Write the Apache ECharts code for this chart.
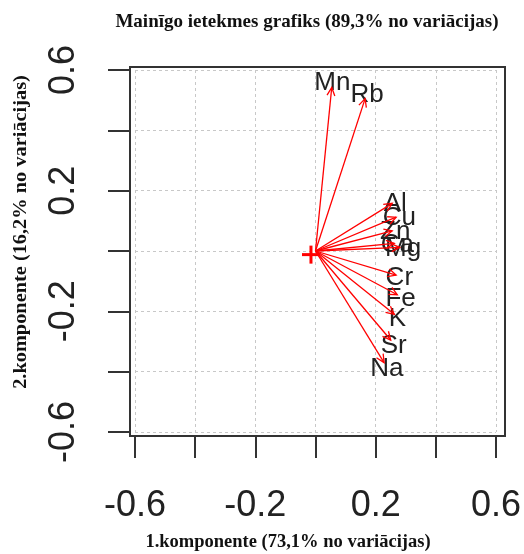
<!DOCTYPE html>
<html>
<head>
<meta charset="utf-8">
<script src="https://cdn.jsdelivr.net/npm/echarts@6/dist/echarts.min.js"></script>
<style>
  html, body { margin: 0; padding: 0; background: #ffffff; }
  #chart { width: 524px; height: 554px; }
</style>
</head>
<body>
<div id="chart"></div>
<script>
// Variable loadings on the first two principal components
const variables = ['Mn', 'Rb', 'Al', 'Cu', 'Zn', 'Ca', 'Mg', 'Cr', 'Fe', 'K', 'Sr', 'Na'];
const pc1 = [0.054, 0.165, 0.255, 0.268, 0.255, 0.262, 0.280, 0.268, 0.272, 0.262, 0.250, 0.228];
const pc2 = [0.542, 0.505, 0.158, 0.112, 0.067, 0.025, 0.012, -0.080, -0.145, -0.210, -0.295, -0.370];

// Marker near the origin
const originMark = [-0.015, -0.012];

// Axis ticks and the labels that are printed
const tickValues = [-0.6, -0.4, -0.2, 0, 0.2, 0.4, 0.6];
const tickLabels = ['-0.6', '-0.2', '0.2', '0.6'];

const titleText = 'Mainīgo ietekmes grafiks (89,3% no variācijas)';
const xName = '1.komponente (73,1% no variācijas)';
const yName = '2.komponente (16,2% no variācijas)';

const labelScale = 1.04;
const loadings = variables.map((v, i) => [pc1[i], pc2[i], v]);

function tickFormatter(v) {
  const s = (Math.round(v * 10) / 10).toFixed(1);
  return tickLabels.indexOf(s) >= 0 ? s : '';
}

const axisCommon = {
  type: 'value',
  min: tickValues[0],
  max: tickValues[tickValues.length - 1],
  interval: 0.2,
  axisLine: { show: true, onZero: false, lineStyle: { color: '#333', width: 2 } },
  axisTick: { show: true, inside: false, length: 22, lineStyle: { color: '#333', width: 2 } },
  splitLine: { show: true, lineStyle: { color: '#c8c8c8', width: 1, type: [3, 3] } },
  axisLabel: {
    fontFamily: 'Liberation Sans, Arial, sans-serif',
    fontSize: 36,
    color: '#222',
    formatter: tickFormatter,
    showMinLabel: true,
    showMaxLabel: true,
    hideOverlap: false
  }
};

const chart = echarts.init(document.getElementById('chart'), null, { renderer: 'canvas' });

chart.setOption({
  animation: false,
  backgroundColor: '#ffffff',
  title: {
    text: titleText,
    left: 302,
    textAlign: 'center',
    top: 8,
    textStyle: { fontFamily: 'Liberation Serif, Times New Roman, serif', fontWeight: 'bold', fontSize: 19, color: '#111' }
  },
  grid: { left: 135, right: 24, top: 70, bottom: 122, containLabel: false },
  xAxis: Object.assign({}, axisCommon, {
    offset: 4,
    axisLabel: Object.assign({}, axisCommon.axisLabel, { margin: 52 })
  }),
  yAxis: Object.assign({}, axisCommon, {
    offset: 5,
    axisLabel: Object.assign({}, axisCommon.axisLabel, { rotate: 90, margin: 48 })
  }),
  graphic: [
    {
      type: 'rect',
      shape: { x: 130, y: 67, width: 375, height: 369 },
      style: { fill: null, stroke: '#333', lineWidth: 2 },
      silent: true,
      z: 10
    },
    {
      type: 'text',
      x: 288, y: 542,
      style: {
        text: xName, textAlign: 'center', textVerticalAlign: 'middle',
        font: 'bold 18.5px "Liberation Serif", "Times New Roman", serif', fill: '#111'
      }
    },
    {
      type: 'text',
      x: 21, y: 232,
      rotation: Math.PI / 2,
      scaleX: 1.1,
      style: {
        text: yName, textAlign: 'center', textVerticalAlign: 'middle',
        font: 'bold 18.5px "Liberation Serif", "Times New Roman", serif', fill: '#111'
      }
    }
  ],
  series: [
    {
      // variable names just beyond the arrow tips
      type: 'custom',
      data: loadings,
      z: 2,
      renderItem: function (params, api) {
        const p = api.coord([api.value(0) * labelScale, api.value(1) * labelScale]);
        return {
          type: 'text',
          x: p[0], y: p[1] + 2,
          style: {
            text: variables[params.dataIndex],
            textAlign: 'center', textVerticalAlign: 'middle',
            font: '26px "Liberation Sans", Arial, sans-serif', fill: '#222'
          }
        };
      }
    },
    {
      // arrows from the origin to each loading
      type: 'custom',
      data: loadings,
      z: 3,
      renderItem: function (params, api) {
        const o = api.coord([0, 0]);
        const t = api.coord([api.value(0), api.value(1)]);
        const ang = Math.atan2(t[1] - o[1], t[0] - o[0]);
        const L = 9, a = Math.PI / 7;
        const h1 = [t[0] - L * Math.cos(ang - a), t[1] - L * Math.sin(ang - a)];
        const h2 = [t[0] - L * Math.cos(ang + a), t[1] - L * Math.sin(ang + a)];
        return {
          type: 'group',
          children: [
            { type: 'line', shape: { x1: o[0], y1: o[1], x2: t[0], y2: t[1] }, style: { stroke: '#ff0000', lineWidth: 1.3 } },
            { type: 'polyline', shape: { points: [h1, t, h2] }, style: { stroke: '#ff0000', fill: null, lineWidth: 1.3 } }
          ]
        };
      }
    },
    {
      // plus marker at the centre
      type: 'custom',
      data: [originMark],
      z: 4,
      renderItem: function (params, api) {
        const c = api.coord([api.value(0), api.value(1)]);
        const r = 9;
        return {
          type: 'group',
          children: [
            { type: 'line', shape: { x1: c[0] - r, y1: c[1], x2: c[0] + r, y2: c[1] }, style: { stroke: '#ff0000', lineWidth: 3 } },
            { type: 'line', shape: { x1: c[0], y1: c[1] - r, x2: c[0], y2: c[1] + r }, style: { stroke: '#ff0000', lineWidth: 3 } }
          ]
        };
      }
    }
  ]
});
</script>
</body>
</html>
